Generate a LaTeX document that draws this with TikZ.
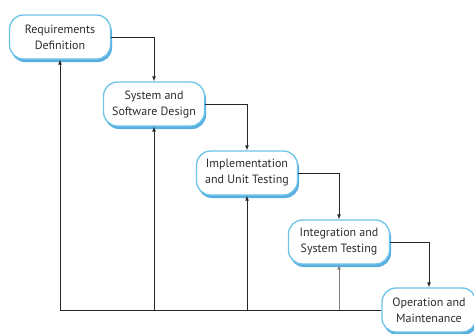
\documentclass[tikz,border=0pt]{standalone}
\usepackage{fontspec}
\setmainfont{PT Sans}
\usetikzlibrary{shadows,positioning}
\definecolor{boxline}{RGB}{110,195,232}
\definecolor{boxshade}{RGB}{60,160,220}
\definecolor{textgray}{RGB}{45,45,45}

\begin{document}
\begin{tikzpicture}[x=1pt,y=-1pt,>=latex,
    phase/.style={draw=boxline, line width=1.3pt, fill=white, rounded corners=14pt,
        minimum width=101pt, minimum height=44pt, align=center, inner sep=2pt,
        font=\fontsize{12}{16}\selectfont, text=textgray,
        drop shadow={shadow xshift=1.5pt, shadow yshift=-3pt, fill=boxshade, opacity=0.85}},
    flow/.style={draw=black!85, line width=0.7pt}]
            \useasboundingbox (0,0) rectangle (474,333);

            \node [phase] (req) at (60,37) {Requirements\\Definition};
            \node [phase] (sys) at (154,104) {System and\\Software Design};
            \node [phase] (imp) at (247,173) {Implementation\\and Unit Testing};
            \node [phase] (int) at (339,242) {Integration and\\System Testing};
            \node [phase, minimum width=94pt] (ops) at (429,310) {Operation and\\Maintenance};

            % going down
            \draw [flow,->] (req.east) -| (sys.north);
            \draw [flow,->] (sys.east) -| (imp.north);
            \draw [flow,->] (imp.east) -| (int.north);
            \draw [flow,->] (int.east) -| (ops.north);

            % going back up
            \draw [flow,->] (ops.west) -| (req.south);
            \draw [flow,->] (sys.south |- ops.west) -- (sys.south);
            \draw [flow,->] (imp.south |- ops.west) -- (imp.south);
            \draw [flow,->,black!50] (int.south |- ops.west) -- (int.south);
        \end{tikzpicture}
\end{document}
